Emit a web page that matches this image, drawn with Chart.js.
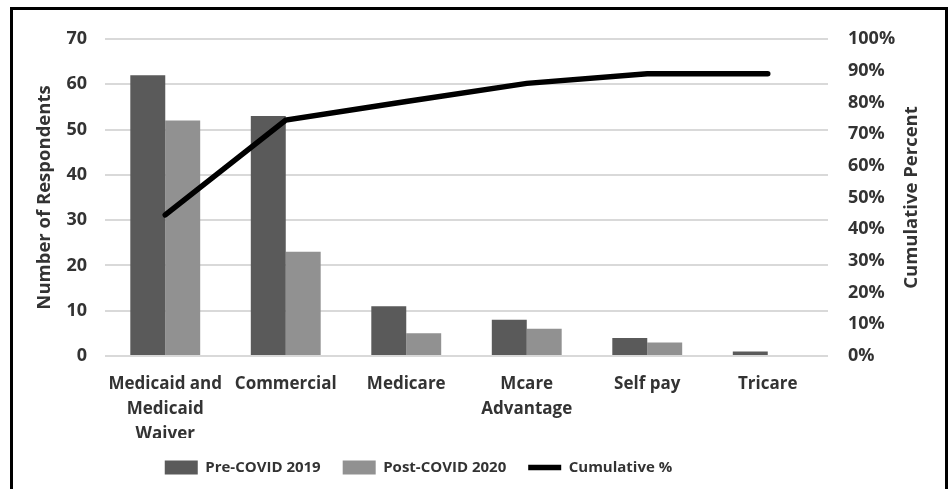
<!DOCTYPE html>
<html>
<head>
<meta charset="utf-8">
<script src="https://cdn.jsdelivr.net/npm/chart.js@4"></script>
<style>
  html, body { margin: 0; padding: 0; background: #fff; overflow: hidden; }
  #wrap { position: relative; width: 951px; height: 489px; }
  #frame { position: absolute; left: 10px; top: 7px; width: 932px; height: 500px; border: 3px solid #000; pointer-events: none; }
  canvas { position: absolute; left: 0; top: 0; }
</style>
</head>
<body>
<div id="wrap">
  <canvas id="payer-chart" width="951" height="489"></canvas>
  <div id="frame"></div>
</div>
<script>
const categories = [["Medicaid and", "Medicaid", "Waiver"], "Commercial", "Medicare", ["Mcare", "Advantage"], "Self pay", "Tricare"];
const pre2019 = [62, 53, 11, 8, 4, 1];
const post2020 = [52, 23, 5, 6, 3, 0];
const cumulativePct = [44.5, 74.4, 80.3, 86, 89, 89];
const leftTicks = [0, 10, 20, 30, 40, 50, 60, 70];
const rightTicks = [0, 10, 20, 30, 40, 50, 60, 70, 80, 90, 100];

const FONT = "'Open Sans', sans-serif";
const TEXT = '#333333';

// right title reads bottom-to-top, so draw it by hand
const rightTitle = {
  id: 'rightTitle',
  afterLayout(chart) {
    // legend sits a bit left of centre
    chart.legend.left -= 57;
    chart.legend.right -= 57;
  },
  afterDraw(chart) {
    const ctx = chart.ctx;
    const area = chart.chartArea;
    ctx.save();
    ctx.translate(912, (area.top + area.bottom) / 2);
    ctx.rotate(-Math.PI / 2);
    ctx.font = "bold 18.5px " + FONT;
    ctx.fillStyle = TEXT;
    ctx.textAlign = 'center';
    ctx.textBaseline = 'middle';
    ctx.fillText('Cumulative Percent', 0, 0);
    ctx.restore();
  }
};

const ctx = document.getElementById('payer-chart').getContext('2d');
new Chart(ctx, {
  type: 'bar',
  data: {
    labels: categories,
    datasets: [
      {
        type: 'line',
        label: 'Cumulative %',
        data: cumulativePct,
        yAxisID: 'y1',
        borderColor: '#000',
        backgroundColor: '#000',
        borderWidth: 5.5,
        borderCapStyle: 'round',
        pointRadius: 0,
        pointStyle: 'line',
        tension: 0,
        order: 0
      },
      {
        label: 'Pre-COVID 2019',
        data: pre2019,
        backgroundColor: '#5a5a5a',
        pointStyle: 'rect',
        order: 1
      },
      {
        label: 'Post-COVID 2020',
        data: post2020,
        backgroundColor: '#919191',
        pointStyle: 'rect',
        order: 2
      }
    ]
  },
  options: {
    responsive: false,
    animation: false,
    layout: { padding: { top: 39, bottom: 4, left: 0, right: 0 } },
    datasets: {
      bar: { categoryPercentage: 0.58, barPercentage: 1.0 }
    },
    plugins: {
      tooltip: { enabled: false },
      legend: {
        position: 'bottom',
        labels: {
          usePointStyle: true,
          pointStyleWidth: 33,
          boxHeight: 14,
          padding: 22,
          color: TEXT,
          font: { family: FONT, size: 15, weight: 'bold' },
          sort: (a, b) => (a.datasetIndex === 0 ? 1 : 0) - (b.datasetIndex === 0 ? 1 : 0)
        }
      }
    },
    scales: {
      x: {
        grid: { display: false, drawTicks: false },
        border: { display: false },
        ticks: {
          padding: 16,
          maxRotation: 0,
          autoSkip: false,
          color: TEXT,
          font: { family: FONT, size: 17, weight: 'bold', lineHeight: 1.47 }
        },
        afterFit(scale) { scale.height = 82; }
      },
      y: {
        position: 'left',
        min: 0,
        max: 70,
        afterBuildTicks(scale) { scale.ticks = leftTicks.map(v => ({ value: v })); },
        grid: { color: '#d9d9d9', lineWidth: 2, drawTicks: false },
        border: { display: false },
        ticks: {
          padding: 18,
          color: TEXT,
          font: { family: FONT, size: 18, weight: 'bold' }
        },
        title: {
          display: true,
          text: 'Number of Respondents',
          color: TEXT,
          font: { family: FONT, size: 18.5, weight: 'bold' },
          padding: { top: 34, bottom: 0 }
        },
        afterFit(scale) { scale.width = 105; }
      },
      y1: {
        position: 'right',
        min: 0,
        max: 100,
        afterBuildTicks(scale) { scale.ticks = rightTicks.map(v => ({ value: v })); },
        grid: { display: false, drawTicks: false },
        border: { display: false },
        ticks: {
          padding: 20,
          color: TEXT,
          font: { family: FONT, size: 18, weight: 'bold' },
          callback: v => v + '%'
        },
        afterFit(scale) { scale.width = 123; }
      }
    }
  },
  plugins: [rightTitle]
});
</script>
</body>
</html>
